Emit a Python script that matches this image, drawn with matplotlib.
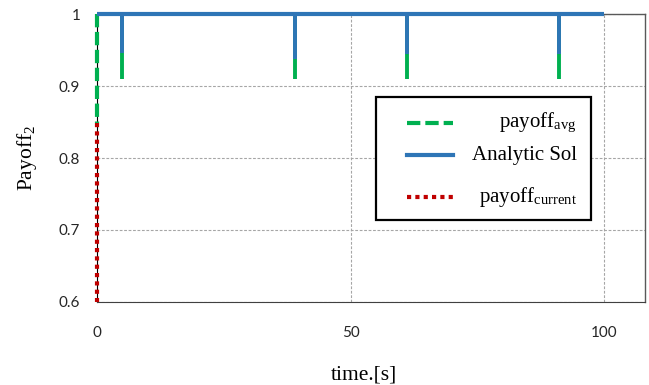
import matplotlib
matplotlib.use("Agg")
import matplotlib.pyplot as plt
from matplotlib.patches import Rectangle
from matplotlib.lines import Line2D

plt.rcParams['font.family'] = ['Liberation Serif', 'DejaVu Serif']
plt.rcParams['mathtext.fontset'] = 'stix'

# series values
analytic_t = [0, 100]
analytic_level = [1.0, 1.0]
dip_times = [5, 39, 61, 91]
analytic_dip = [0.946, 0.938, 0.944, 0.944]
avg_dip = [0.91, 0.91, 0.91, 0.91]
avg_t0 = [1.0, 0.848]
current_t0 = [0.848, 0.6]

x_ticks = [0, 50, 100]
y_ticks = [0.6, 0.7, 0.8, 0.9, 1.0]
y_ticklabels = ['0.6', '0.7', '0.8', '0.9', '1']

green = '#00B050'
blue = '#2E75B6'
red = '#C00000'

fig = plt.figure(figsize=(6.49, 3.85), dpi=100)
ax = fig.add_axes([0.1495, 0.2156, 0.8443, 0.748])

# payoff_avg: dashed start at t=0 plus short dips
ax.plot([0, 0], avg_t0, color=green, lw=3.0, dashes=(3.2, 1.1), clip_on=False, zorder=3)
ax.vlines(dip_times, avg_dip, 1.0, color=green, lw=2.8, zorder=3)
# payoff_current: dotted at t=0
ax.plot([0, 0], current_t0, color=red, lw=3.0, dashes=(1.0, 1.0), clip_on=False, zorder=3)
# analytic solution
ax.vlines(dip_times, analytic_dip, 1.0, color=blue, lw=2.8, zorder=4)
ax.plot(analytic_t, analytic_level, color=blue, lw=3.0, solid_capstyle='butt',
        clip_on=False, zorder=4)

ax.set_xlim(0, 108)
ax.set_ylim(0.6, 1.0)
ax.set_xticks(x_ticks)
ax.set_yticks(y_ticks)
ax.set_yticklabels(y_ticklabels)
ax.tick_params(length=0, labelsize=11)
ax.tick_params(axis='x', pad=17)
ax.tick_params(axis='y', pad=12)
for lbl in ax.get_xticklabels() + ax.get_yticklabels():
    lbl.set_family('Lato')
    lbl.set_color('#262626')

ax.grid(True, color='#A6A6A6', lw=0.8, dashes=(2.5, 1.5))
ax.set_axisbelow(True)

ax.spines['left'].set_color('black')
ax.spines['left'].set_linewidth(0.8)
ax.spines['bottom'].set_color('#404040')
for s in ['top', 'right']:
    ax.spines[s].set_color('#595959')
    ax.spines[s].set_linewidth(1.0)

ax.set_ylabel('Payoff$_\\mathregular{2}$', fontsize=15.5)
ax.yaxis.set_label_coords(-0.106, 0.5)
ax.set_xlabel('time.[s]', fontsize=15.5)
ax.xaxis.set_label_coords(0.487, -0.222)

# legend box with right-aligned labels
ax.add_patch(Rectangle((0.509, 0.285), 0.392, 0.427, transform=ax.transAxes,
                       facecolor='white', edgecolor='black', lw=1.6, zorder=6))
rows = [
    (0.622, dict(color=green, lw=3.0, dashes=(3.2, 1.2)), 'payoff$_\\mathregular{avg}$'),
    (0.510, dict(color=blue, lw=3.0), 'Analytic Sol'),
    (0.365, dict(color=red, lw=3.0, dashes=(1.0, 1.0)), 'payoff$_\\mathregular{current}$'),
]
for y, style, label in rows:
    ax.add_line(Line2D([0.566, 0.650], [y, y], transform=ax.transAxes, zorder=7, **style))
    ax.text(0.876, y, label, transform=ax.transAxes, ha='right', va='center',
            fontsize=15, zorder=7)

fig.savefig('out.png', dpi=100)
